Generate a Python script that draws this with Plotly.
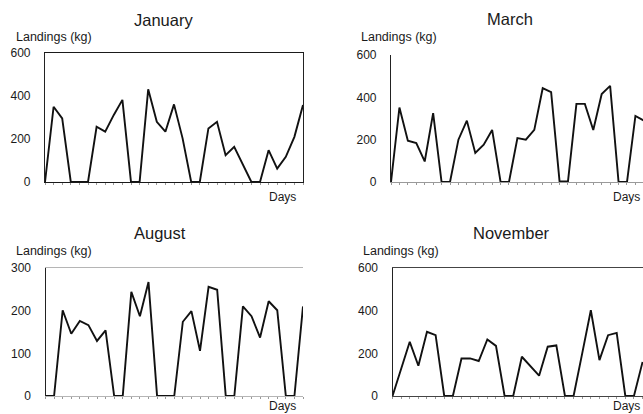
import plotly.graph_objects as go

# ---- data (kg landed per day) ----
jan_days = list(range(1, 32))
jan_kg = [0, 350, 296, 0, 0, 0, 257, 234, 312, 382, 0, 0, 431, 280, 234, 361,
          203, 0, 0, 249, 280, 125, 164, 82, 0, 0, 148, 62, 117, 210, 358]

mar_days = list(range(1, 32))
mar_kg = [0, 352, 195, 184, 97, 325, 0, 0, 200, 290, 137, 176, 246, 0, 0, 207,
          200, 246, 443, 424, 3, 3, 369, 369, 246, 416, 454, 0, 0, 312, 290]

aug_days = list(range(1, 32))
aug_kg = [0, 0, 201, 146, 176, 166, 129, 154, 0, 0, 244, 187, 267, 0, 0, 0,
          174, 199, 106, 256, 249, 0, 0, 210, 187, 137, 222, 201, 0, 0, 210]

nov_days = list(range(1, 31))
nov_kg = [0, 128, 254, 142, 301, 285, 0, 0, 176, 176, 164, 265, 235, 0, 0, 184,
          137, 95, 231, 237, 0, 0, 200, 402, 168, 285, 296, 0, 0, 160]

titles = ["January", "March", "August", "November"]
y_label = "Landings (kg)"
x_label = "Days"

W, H = 643, 414
FONT = "Liberation Sans, Arial, sans-serif"
INK = "#1a1a1a"

def px_x(p):
    return p / W

def px_y(p):
    return 1 - p / H

panels = [
    dict(x=jan_days, y=jan_kg, xd=(45, 303), yd=(53, 182), yr=600, xr=(1, 31),
         title=(163, 20), yl=(14, 37), days=(282, 197), xmirror=True, ymirror=True,
         xline=INK),
    dict(x=mar_days, y=mar_kg, xd=(391, 643), yd=(55, 182), yr=600, xr=(1, 30.9),
         title=(510, 19), yl=(359, 37), days=(626, 197), xmirror=False, ymirror=False,
         xline="#9a9a9a"),
    dict(x=aug_days, y=aug_kg, xd=(45.5, 303), yd=(268, 396), yr=300, xr=(1, 31),
         title=(160, 233), yl=(14, 251), days=(282, 406), xmirror=True, ymirror=False,
         xline="#b5b5b5"),
    dict(x=nov_days, y=nov_kg, xd=(392.5, 643), yd=(268, 396), yr=600, xr=(1, 30.05),
         title=(511, 233), yl=(361, 251), days=(626, 406), xmirror=True, ymirror=False,
         xline="#444444"),
]

fig = go.Figure()
layout = dict(
    width=W, height=H,
    margin=dict(l=0, r=0, t=0, b=0, autoexpand=False),
    paper_bgcolor="white", plot_bgcolor="white",
    showlegend=False,
    font=dict(family=FONT, color=INK),
)
annotations = []

for i, p in enumerate(panels):
    n = i + 1
    xa = "x" if n == 1 else f"x{n}"
    ya = "y" if n == 1 else f"y{n}"
    fig.add_trace(go.Scatter(
        x=p["x"], y=p["y"], xaxis=xa, yaxis=ya, mode="lines",
        line=dict(color="#111111", width=1.9), hoverinfo="skip",
        cliponaxis=True,
    ))
    step = p["yr"] // 3
    layout["xaxis" if n == 1 else f"xaxis{n}"] = dict(
        domain=[px_x(p["xd"][0]), px_x(p["xd"][1])],
        anchor=ya, range=list(p["xr"]), automargin=False,
        showgrid=False, zeroline=False, showticklabels=False,
        showline=True, linecolor=p["xline"], linewidth=1,
        mirror=p["xmirror"],
        ticks="outside", ticklen=2, tickwidth=1, tickcolor="#999999",
        tickmode="linear", tick0=1, dtick=1,
    )
    layout["yaxis" if n == 1 else f"yaxis{n}"] = dict(
        domain=[px_y(p["yd"][1]), px_y(p["yd"][0])],
        anchor=xa, range=[0, p["yr"]], automargin=False,
        tickmode="array", tickvals=[0, step, 2 * step, 3 * step],
        ticktext=[str(v) for v in [0, step, 2 * step, 3 * step]],
        showgrid=False, zeroline=False,
        showline=True, linecolor="#222222", linewidth=1.2,
        mirror=p["ymirror"],
        ticks="", ticklabelstandoff=11,
        tickfont=dict(family=FONT, size=12, color=INK),
    )
    annotations.append(dict(
        text=titles[i], xref="paper", yref="paper",
        x=px_x(p["title"][0]), y=px_y(p["title"][1]),
        xanchor="center", yanchor="middle", showarrow=False,
        font=dict(family=FONT, size=16.5, color=INK),
    ))
    annotations.append(dict(
        text=y_label, xref="paper", yref="paper",
        x=px_x(p["yl"][0]), y=px_y(p["yl"][1]),
        xanchor="left", yanchor="middle", showarrow=False,
        font=dict(family=FONT, size=12.5, color=INK),
    ))
    annotations.append(dict(
        text=x_label, xref="paper", yref="paper",
        x=px_x(p["days"][0]), y=px_y(p["days"][1]),
        xanchor="center", yanchor="middle", showarrow=False,
        font=dict(family=FONT, size=12, color=INK),
    ))

layout["annotations"] = annotations
fig.update_layout(**layout)
fig.write_html(
    "out.html",
    config={"displayModeBar": False},
    post_script="document.body.style.margin='0';document.body.style.overflow='hidden';",
)
